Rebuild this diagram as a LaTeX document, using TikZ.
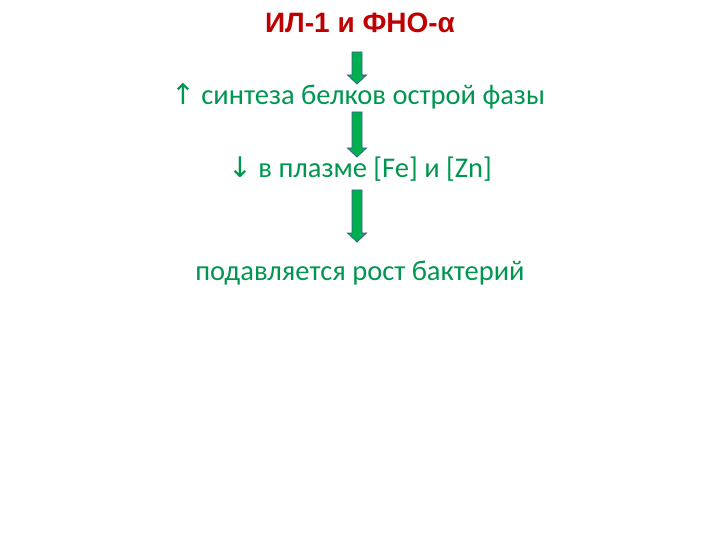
\documentclass[tikz,border=0pt]{standalone}
\usepackage{fontspec}
\setmainfont{Carlito}
\newfontfamily\titlefont{Liberation Sans}
\newfontfamily\symfont{DejaVu Sans}
\usetikzlibrary{calc}
\definecolor{titlered}{RGB}{192,0,0}
\definecolor{textgreen}{RGB}{0,150,80}
\definecolor{arrowgreen}{RGB}{0,176,80}
\definecolor{arrowedge}{RGB}{56,93,138}

\begin{document}
\begin{tikzpicture}[
          x=1pt, y=1pt,
          title/.style={
            anchor=base,
            inner sep=0pt,
            text=titlered,
            font=\titlefont\bfseries\fontsize{28}{33}\selectfont,
          },
          stage/.style={
            anchor=base,
            inner sep=0pt,
            text=textgreen,
            font=\fontsize{28.5}{34}\selectfont,
          },
          blockarrow/.style={
            fill=arrowgreen,
            draw=arrowedge,
            thick,
            line join=miter,
            to path={let \p1=(\tikztostart), \p2=(\tikztotarget) in
              (\x1-5pt,\y1) -- (\x1+5pt,\y1) -- (\x1+5pt,\y2+9pt)
              -- (\x1+9.5pt,\y2+9pt) -- (\x2,\y2) -- (\x1-9.5pt,\y2+9pt)
              -- (\x1-5pt,\y2+9pt) -- cycle},
          },
        ]
          \useasboundingbox (0,0) rectangle (720,-540);

          \node[title](cause) at (360,-33) {ИЛ-1 и ФНО-α};
          \node[stage](proteins) at (358,-105) {{\symfont ↑} синтеза белков острой фазы};
          \node[stage](plasma) at (360,-178) {{\symfont ↓} в плазме [Fe] и [Zn]};
          \node[stage](bacteria) at (360,-280) {подавляется рост бактерий};

          \coordinate (a1top) at (357,-52);
          \coordinate (a1tip) at (357,-84);
          \coordinate (a2top) at (357,-112);
          \coordinate (a2tip) at (357,-157);
          \coordinate (a3top) at (357,-190);
          \coordinate (a3tip) at (357,-242);

          \draw
              (a1top) edge [blockarrow] (a1tip)
              (a2top) edge [blockarrow] (a2tip)
              (a3top) edge [blockarrow] (a3tip);
        \end{tikzpicture}
\end{document}
